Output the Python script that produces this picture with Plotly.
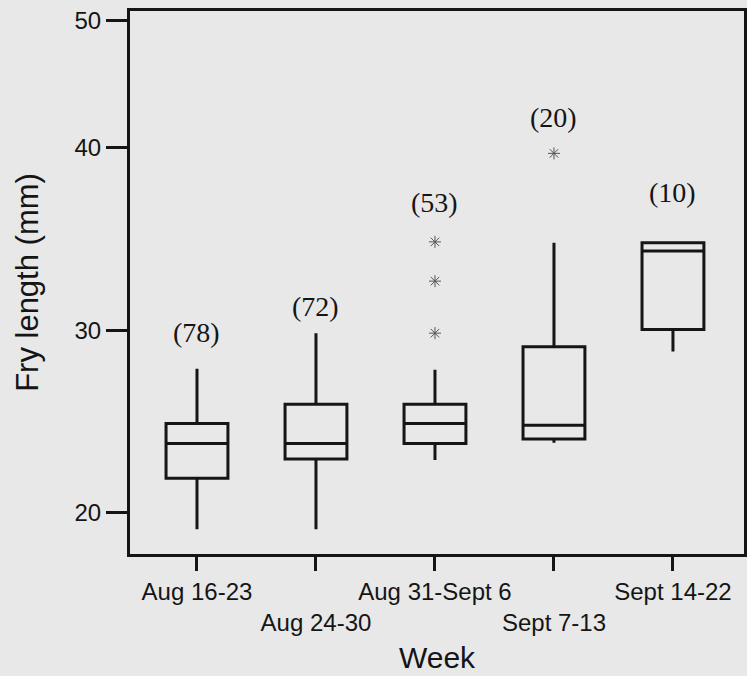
import plotly.graph_objects as go

# ---- data ----
weeks = ["Aug 16-23", "Aug 24-30", "Aug 31-Sept 6", "Sept 7-13", "Sept 14-22"]
week_tick_text = ["Aug 16-23", "<br>Aug 24-30", "Aug 31-Sept 6", "<br>Sept 7-13", "Sept 14-22"]
lower_whisker = [19.1, 19.1, 22.9, 23.85, 28.85]
q1_values = [21.9, 22.95, 23.8, 24.05, 30.05]
median_values = [23.8, 23.8, 24.9, 24.8, 34.35]
q3_values = [24.9, 25.95, 25.95, 29.1, 34.8]
upper_whisker = [27.9, 29.85, 27.85, 34.8, 34.8]

outlier_weeks = ["Aug 31-Sept 6", "Aug 31-Sept 6", "Aug 31-Sept 6", "Sept 7-13"]
outlier_values = [29.85, 32.7, 34.85, 39.7]

sample_sizes = ["(78)", "(72)", "(53)", "(20)", "(10)"]
sample_label_y = [29.9, 31.3, 37.0, 41.65, 37.55]

y_tick_vals = [20, 30, 40, 46.98]
y_tick_text = ["20", "30", "40", "50"]

BG = "#e8e8e8"
INK = "#151515"

fig = go.Figure()

fig.add_trace(go.Box(
    x=weeks,
    lowerfence=lower_whisker,
    q1=q1_values,
    median=median_values,
    q3=q3_values,
    upperfence=upper_whisker,
    width=0.52,
    whiskerwidth=0,
    fillcolor="rgba(0,0,0,0)",
    line=dict(color=INK, width=3),
    boxpoints=False,
    showlegend=False,
    hoverinfo="skip",
))

fig.add_trace(go.Scatter(
    x=outlier_weeks,
    y=outlier_values,
    mode="markers",
    marker=dict(symbol="asterisk-open", size=10, color="#555555",
                line=dict(color="#555555", width=1)),
    showlegend=False,
    hoverinfo="skip",
))

for wk, txt, yy in zip(weeks, sample_sizes, sample_label_y):
    fig.add_annotation(
        x=wk, y=yy, text=txt, showarrow=False,
        font=dict(family="Liberation Serif, Times New Roman, serif", size=28, color=INK),
        xanchor="center", yanchor="middle",
    )

fig.update_layout(
    width=747, height=676,
    margin=dict(l=130, r=3, t=11, b=122),
    paper_bgcolor=BG,
    plot_bgcolor=BG,
    font=dict(family="Liberation Sans, Arial, sans-serif", color=INK),
)

fig.update_xaxes(
    type="category",
    range=[-0.563, 4.597],
    tickmode="array",
    tickvals=weeks,
    ticktext=week_tick_text,
    tickangle=0,
    automargin=False,
    ticks="outside", ticklen=14, tickwidth=3, tickcolor=INK,
    tickfont=dict(size=24, color=INK),
    showline=True, linewidth=3, linecolor=INK, mirror=True,
    showgrid=False, zeroline=False,
    title=dict(text="Week", font=dict(size=30, color=INK), standoff=12),
)

fig.update_yaxes(
    range=[17.75, 47.5],
    tickmode="array",
    tickvals=y_tick_vals,
    ticktext=y_tick_text,
    automargin=False,
    ticks="outside", ticklen=21, tickwidth=3, tickcolor=INK,
    tickfont=dict(size=24, color=INK),
    showline=True, linewidth=3, linecolor=INK, mirror=True,
    showgrid=False, zeroline=False,
    title=dict(text="Fry length (mm)", font=dict(size=31, color=INK), standoff=27),
)

fig.write_html(
    "out.html",
    config={"displayModeBar": False},
    post_script="document.body.style.margin='0';document.body.style.padding='0';",
)
